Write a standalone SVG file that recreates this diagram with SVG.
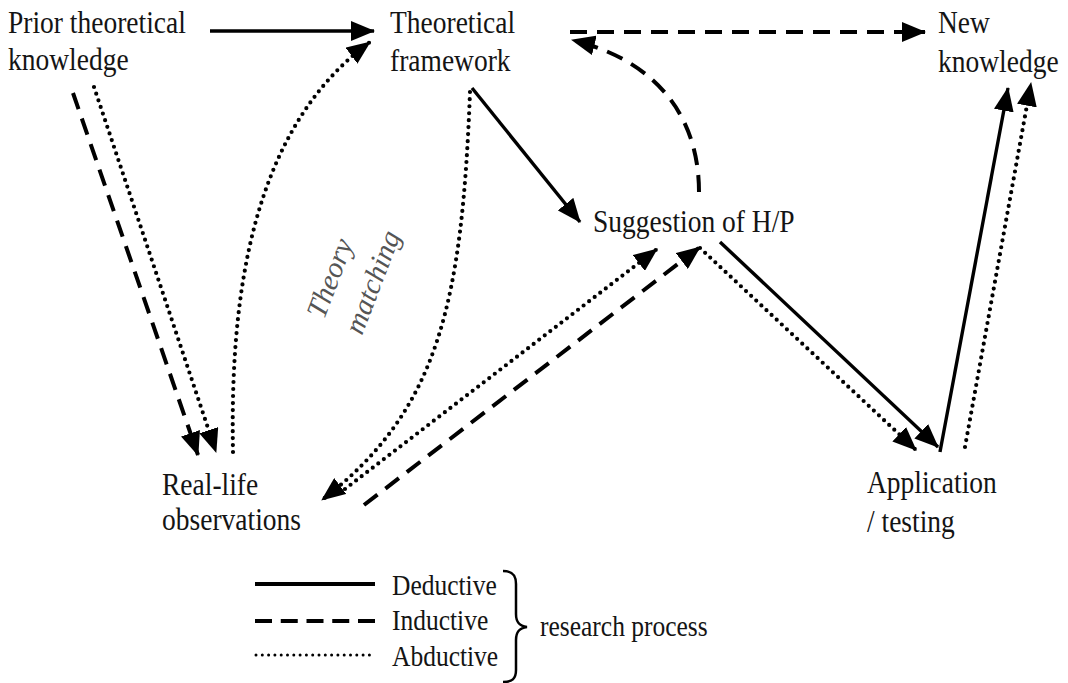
<svg xmlns="http://www.w3.org/2000/svg" width="1068" height="683" viewBox="0 0 1068 683">
<style>
.lbl{font-family:"Liberation Serif","Times New Roman",serif;font-size:27.5px;fill:#141414}
.leg{font-family:"Liberation Serif","Times New Roman",serif;font-size:25.5px;fill:#141414}
.tm{font-family:"Liberation Serif","Times New Roman",serif;font-size:29px;font-style:italic;fill:#555}
.sol{fill:none;stroke:#000;stroke-width:3.4}
.das{fill:none;stroke:#000;stroke-width:4;stroke-dasharray:17 10}
.dot{fill:none;stroke:#000;stroke-width:4.2;stroke-linecap:round;stroke-dasharray:0 7}
</style>
<defs>
<marker id="ah" markerUnits="userSpaceOnUse" markerWidth="24" markerHeight="20" refX="23" refY="10" orient="auto">
<path d="M0,0 L24,10 L0,20 Z" fill="#000"/>
</marker>
</defs>
<rect width="1068" height="683" fill="#fff"/>
<g id="connectors">
<path class="sol" d="M210,31 L374,31" marker-end="url(#ah)"/>
<path class="dot" d="M233,452 C230,300 250,130 370,42" marker-end="url(#ah)"/>
<path class="das" d="M73,93 L198,455" marker-end="url(#ah)"/>
<path class="dot" d="M94,87 L216,452" marker-end="url(#ah)"/>
<path class="sol" d="M472,88 L580,222" marker-end="url(#ah)"/>
<path class="dot" d="M470,92 C462,300 440,410 322,500" marker-end="url(#ah)"/>
<path class="dot" d="M345,489 L657,249" marker-end="url(#ah)"/>
<path class="das" d="M364,505 L700,247" marker-end="url(#ah)"/>
<path class="das" d="M699,192 C699,115 655,60 572,40" marker-end="url(#ah)"/>
<path class="das" d="M570,32 L925,32" marker-end="url(#ah)"/>
<path class="sol" d="M720,242 L938,447" marker-end="url(#ah)"/>
<path class="dot" d="M700,248 L916,450" marker-end="url(#ah)"/>
<path class="sol" stroke-width="2.9" d="M940,452 L1008,88" marker-end="url(#ah)"/>
<path class="dot" d="M965,447 L1031,83" marker-end="url(#ah)"/>
</g>
<g id="prior">
<text class="lbl" transform="matrix(1 0 0 1.12 8 33)">Prior theoretical</text>
<text class="lbl" transform="matrix(1 0 0 1.12 8 70)">knowledge</text>
</g>
<g id="framework">
<text class="lbl" transform="matrix(1 0 0 1.12 390 33)">Theoretical</text>
<text class="lbl" transform="matrix(1 0 0 1.12 390 71)">framework</text>
</g>
<g id="newknowledge">
<text class="lbl" transform="matrix(1 0 0 1.12 938 33)">New</text>
<text class="lbl" transform="matrix(1 0 0 1.12 938 72)">knowledge</text>
</g>
<g id="suggestion">
<text class="lbl" transform="matrix(1 0 0 1.12 593 232)">Suggestion of H/P</text>
</g>
<g id="reallife">
<text class="lbl" transform="matrix(1 0 0 1.12 162 495)">Real-life</text>
<text class="lbl" transform="matrix(1 0 0 1.12 162 530)">observations</text>
</g>
<g id="application">
<text class="lbl" transform="matrix(1 0 0 1.12 867 493)">Application</text>
<text class="lbl" transform="matrix(1 0 0 1.12 867 532)">/ testing</text>
</g>
<g id="theorymatching">
<text class="tm" transform="translate(324,320) rotate(-69)">Theory</text>
<text class="tm" transform="translate(362,336) rotate(-69)">matching</text>
</g>
<g id="legend">
<line x1="255" y1="584" x2="375" y2="584" stroke="#000" stroke-width="4"/>
<line x1="255" y1="621" x2="375" y2="621" stroke="#000" stroke-width="4.2" stroke-dasharray="17 8.75"/>
<line x1="256" y1="655" x2="375" y2="655" stroke="#000" stroke-width="3" stroke-linecap="round" stroke-dasharray="0 6.3"/>
<text class="leg" transform="matrix(1 0 0 1.12 392 595)">Deductive</text>
<text class="leg" transform="matrix(1 0 0 1.12 392 630)">Inductive</text>
<text class="leg" transform="matrix(1 0 0 1.12 392 666)">Abductive</text>
<path d="M503,571 C512,571 516,575 516,584 L516,614 C516,622 519,626 527,627 C519,628 516,632 516,640 L516,670 C516,679 512,682 503,682" fill="none" stroke="#000" stroke-width="2.5"/>
<text class="leg" transform="matrix(1 0 0 1.12 540 636)">research process</text>
</g>
</svg>
